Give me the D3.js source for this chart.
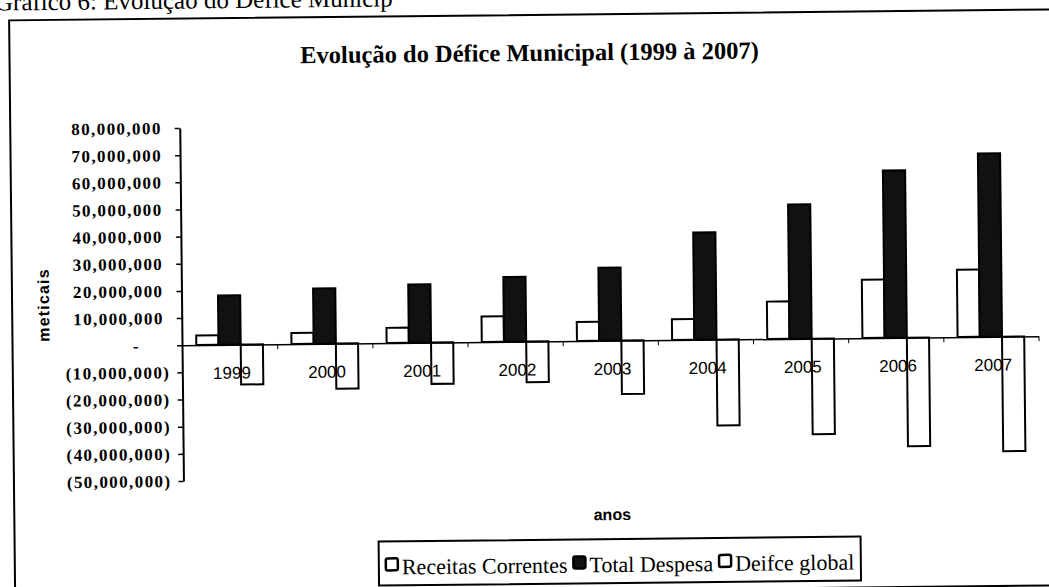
<!DOCTYPE html>
<html>
<head>
<meta charset="utf-8">
<script src="https://cdn.jsdelivr.net/npm/d3@7"></script>
<style>
  body { margin: 0; background: #fff; }
  svg { display: block; }
</style>
</head>
<body>
<svg width="1049" height="587"></svg>
<script>
// values (meticais)
const years = ["1999", "2000", "2001", "2002", "2003", "2004", "2005", "2006", "2007"];
const seriesNames = ["Receitas Correntes", "Total Despesa", "Deifce global"];
const receitas = [3.5e6, 4.1e6, 5.6e6, 9.4e6, 7.0e6, 7.7e6, 13.8e6, 21.5e6, 24.8e6];
const despesa = [18.2e6, 20.4e6, 21.5e6, 23.9e6, 26.9e6, 39.5e6, 49.5e6, 61.6e6, 67.5e6];
const defice = [-14.7e6, -16.6e6, -15.2e6, -15.0e6, -19.7e6, -31.6e6, -35.2e6, -40.0e6, -42.2e6];
const yTicks = [-50e6, -40e6, -30e6, -20e6, -10e6, 0, 10e6, 20e6, 30e6, 40e6, 50e6, 60e6, 70e6, 80e6];
const fills = ["#fff", "#111", "#fff"];

const svg = d3.select("svg"),
  width = +svg.attr("width"),
  height = +svg.attr("height");

// the scan is a little tilted
const root = svg.append("g").attr("transform", "rotate(-0.6, 524, 293)");

// page caption, cut by the top of the image
root.append("text")
  .attr("x", -2).attr("y", 5)
  .style("font-family", "'Liberation Serif', serif")
  .style("font-size", "25px")
  .text("Gráfico 6: Evolução do Défice Municip");

// outer chart frame
root.append("rect")
  .attr("x", 12).attr("y", 15)
  .attr("width", 1060).attr("height", 576)
  .attr("fill", "none").attr("stroke", "#000").attr("stroke-width", 2);

root.append("text")
  .attr("x", 532).attr("y", 61)
  .attr("text-anchor", "middle")
  .style("font-family", "'Liberation Serif', serif")
  .style("font-weight", "bold")
  .style("font-size", "24.5px")
  .text("Evolução do Défice Municipal (1999 à 2007)");

const x0 = 181.5, x1 = 1038;
const x = d3.scaleBand().domain(years).range([x0, x1]).paddingInner(0.3).paddingOuter(0.15);
const xs = d3.scaleBand().domain(seriesNames).range([0, x.bandwidth()]);
const y = d3.scaleLinear().domain([-50e6, 80e6]).range([477.4, 124.4]);
const xEdge = d3.scaleLinear().domain([0, years.length]).range([x0, x1]);

const fmt = d3.format(",.0f");

// value axis
const yAxis = root.append("g")
  .attr("transform", `translate(${x0},0)`)
  .call(d3.axisLeft(y).tickValues(yTicks).tickSize(5).tickSizeOuter(0).tickPadding(13)
    .tickFormat(d => d < 0 ? "(" + fmt(-d) + ")" : d === 0 ? "-" : fmt(d)));
yAxis.select(".domain").attr("stroke-width", 2);
yAxis.selectAll(".tick line").attr("stroke-width", 1.5);
yAxis.selectAll(".tick text")
  .style("font-family", "'Liberation Serif', serif")
  .style("font-weight", "bold")
  .style("font-size", "17px")
  .style("letter-spacing", "1.4px")
  .attr("fill", "#000")
  .attr("dx", d => d < 0 ? 6 : d === 0 ? -24 : 0);

// bars
const series = [receitas, despesa, defice];
series.forEach((vals, si) => {
  root.append("g")
    .selectAll("rect")
    .data(vals.map((v, i) => ({ year: years[i], v: v })))
    .enter().append("rect")
    .attr("x", d => x(d.year) + xs(seriesNames[si]))
    .attr("width", xs.bandwidth())
    .attr("y", d => y(Math.max(0, d.v)))
    .attr("height", d => Math.abs(y(d.v) - y(0)))
    .attr("fill", fills[si])
    .attr("stroke", "#000")
    .attr("stroke-width", 2);
});

// category axis on the zero line
const xAxis = root.append("g")
  .attr("transform", `translate(0,${y(0)})`)
  .call(d3.axisBottom(xEdge).tickValues(d3.range(1, years.length + 1)).tickSize(5).tickSizeOuter(0).tickFormat(""));
xAxis.select(".domain").attr("stroke-width", 1.5);

root.append("g")
  .selectAll("text")
  .data(years)
  .enter().append("text")
  .attr("x", d => x(d) + x.bandwidth() / 2 + 2)
  .attr("y", y(0) + 34)
  .attr("text-anchor", "middle")
  .style("font-family", "'Liberation Sans', Arial, sans-serif")
  .style("font-size", "17px")
  .text(d => d);

// axis titles
root.append("text")
  .attr("transform", "translate(49,300) rotate(-90)")
  .attr("text-anchor", "middle")
  .style("font-family", "'Liberation Sans', Arial, sans-serif")
  .style("font-weight", "bold")
  .style("font-size", "16px")
  .style("letter-spacing", "1.2px")
  .text("meticais");

root.append("text")
  .attr("x", 610).attr("y", 521)
  .attr("text-anchor", "middle")
  .style("font-family", "'Liberation Sans', Arial, sans-serif")
  .style("font-weight", "bold")
  .style("font-size", "16px")
  .text("anos");

// legend
const legend = root.append("g");
legend.append("rect")
  .attr("x", 376).attr("y", 540)
  .attr("width", 482).attr("height", 44)
  .attr("fill", "#fff").attr("stroke", "#000").attr("stroke-width", 2);

let lx = 383;
seriesNames.forEach((name, i) => {
  legend.append("rect")
    .attr("x", lx).attr("y", 557)
    .attr("width", 12).attr("height", 12)
    .attr("rx", 2)
    .attr("fill", fills[i]).attr("stroke", "#000").attr("stroke-width", 2.5);
  const t = legend.append("text")
    .attr("x", lx + 16).attr("y", 573)
    .style("font-family", "'Liberation Serif', serif")
    .style("font-size", "22px")
    .text(name);
  lx += 16 + t.node().getComputedTextLength() + 6;
});
</script>
</body>
</html>
